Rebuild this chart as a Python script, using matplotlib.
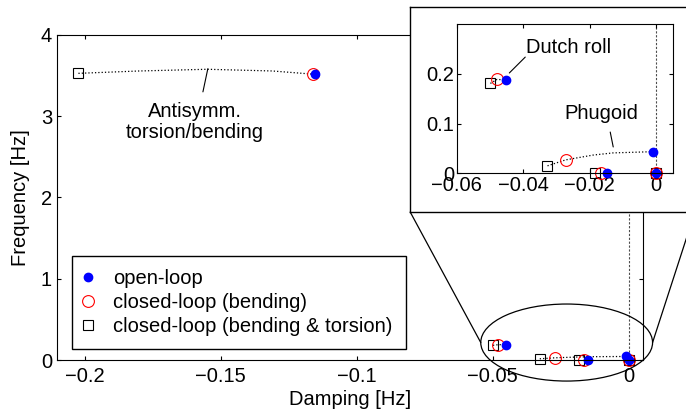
import matplotlib
matplotlib.use('Agg')
import matplotlib.pyplot as plt
from matplotlib.patches import Ellipse, ConnectionPatch

plt.rcParams['font.family'] = ['Liberation Sans', 'DejaVu Sans']
plt.rcParams['font.size'] = 14.5

# eigenvalues: damping [Hz], frequency [Hz]
open_x = [-0.1154, -0.0452, -0.0008, -0.0148, 0.0]
open_y = [3.516, 0.188, 0.0435, 0.0, 0.0]
bend_x = [-0.1160, -0.0479, -0.0272, -0.0166, 0.0]
bend_y = [3.516, 0.189, 0.027, 0.0, 0.0]
tors_x = [-0.2024, -0.0499, -0.0327, -0.0183, 0.0]
tors_y = [3.528, 0.181, 0.015, 0.0, 0.0]

# root loci (dotted)
antisym_x = [-0.2024, -0.180, -0.155, -0.131, -0.1154, -0.1136]
antisym_y = [3.528, 3.557, 3.578, 3.557, 3.516, 3.500]
dutch_x = [-0.0499, -0.0479, -0.0452]
dutch_y = [0.181, 0.189, 0.188]
phug_x = [-0.0327, -0.0272, -0.019, -0.013, -0.0008]
phug_y = [0.015, 0.027, 0.0366, 0.041, 0.0435]

labels = ['open-loop', 'closed-loop (bending)', 'closed-loop (bending & torsion)']

main_xticks = [-0.2, -0.15, -0.1, -0.05, 0]
main_xlabels = ['\u22120.2', '\u22120.15', '\u22120.1', '\u22120.05', '0']
main_yticks = [0, 1, 2, 3, 4]
ins_xticks = [-0.06, -0.04, -0.02, 0]
ins_xlabels = ['\u22120.06', '\u22120.04', '\u22120.02', '0']
ins_yticks = [0, 0.1, 0.2]
ins_ylabels = ['0', '0.1', '0.2']


def draw(ax):
    for lx, ly in [(antisym_x, antisym_y), (dutch_x, dutch_y), (phug_x, phug_y)]:
        ax.plot(lx, ly, ':', color='k', lw=0.9)
    ax.axvline(0, color='0.3', lw=0.8, ls=(0, (2, 1.5)), zorder=1)
    ax.plot(tors_x, tors_y, 's', mfc='none', mec='k', ms=7, mew=0.8, ls='none',
            label=labels[2], clip_on=False)
    ax.plot(bend_x, bend_y, 'o', mfc='none', mec='r', ms=8.5, mew=0.8, ls='none',
            label=labels[1], clip_on=False)
    ax.plot(open_x, open_y, 'o', color='b', ms=6, ls='none', label=labels[0], clip_on=False)
    ax.tick_params(direction='in', top=True, right=True, length=3, width=0.8)


def leader(ax, p0, p1):
    ax.annotate('', xy=p0, xytext=p1,
                arrowprops=dict(arrowstyle='-', color='k', lw=0.8, shrinkA=0, shrinkB=0))


fig = plt.figure(figsize=(6.86, 4.15), dpi=100)
ax = fig.add_axes([0.083, 0.1325, 0.854, 0.7832])
draw(ax)
ax.set_xlim(-0.2103, 0.0052)
ax.set_ylim(0, 4)
ax.set_xticks(main_xticks)
ax.set_xticklabels(main_xlabels)
ax.set_yticks(main_yticks)
ax.tick_params(axis='x', pad=5)
ax.set_xlabel('Damping [Hz]', labelpad=3)
ax.set_ylabel('Frequency [Hz]', labelpad=8)
ax.text(-0.1596, 2.93, 'Antisymm.\ntorsion/bending', ha='center', va='center', linespacing=1.15)
leader(ax, (-0.1548, 3.584), (-0.1566, 3.30))

h, l = ax.get_legend_handles_labels()
leg = ax.legend(h[::-1], l[::-1], loc='lower left', bbox_to_anchor=(0.0256, 0.034),
                borderaxespad=0, fancybox=False, edgecolor='k', framealpha=1,
                handletextpad=1.1, borderpad=0.65, labelspacing=0.25, handlelength=0.3)
leg.get_frame().set_linewidth(1.0)

# zoom ellipse
ell_cx, ell_cy, ell_w, ell_h = -0.0228, 0.215, 0.0632, 0.948
ax.add_patch(Ellipse((ell_cx, ell_cy), ell_w, ell_h, fill=False, ec='k', lw=0.9,
                     clip_on=False, zorder=5))

# inset frame
box = fig.add_axes([0.598, 0.489, 0.5, 0.494])
box.set_xticks([])
box.set_yticks([])
box.set_facecolor('white')
for s in box.spines.values():
    s.set_linewidth(1.0)

for fx, ex in [(0.598, ell_cx - ell_w / 2), (1.013, ell_cx + ell_w / 2)]:
    con = ConnectionPatch(xyA=(fx, 0.489), coordsA=fig.transFigure,
                          xyB=(ex, ell_cy), coordsB=ax.transData, color='k', lw=0.9)
    fig.add_artist(con)

ins = fig.add_axes([0.666, 0.5825, 0.315, 0.3589])
draw(ins)
ins.set_xlim(-0.06, 0.0051)
ins.set_ylim(0, 0.3)
ins.set_xticks(ins_xticks)
ins.set_xticklabels(ins_xlabels)
ins.set_yticks(ins_yticks)
ins.set_yticklabels(ins_ylabels)
ins.tick_params(pad=2)
ins.text(-0.0265, 0.254, 'Dutch roll', ha='center', va='center')
leader(ins, (-0.0442, 0.202), (-0.0394, 0.234))
ins.text(-0.0165, 0.121, 'Phugoid', ha='center', va='center')
leader(ins, (-0.0129, 0.053), (-0.0138, 0.083))

fig.savefig('out.png', dpi=100)
